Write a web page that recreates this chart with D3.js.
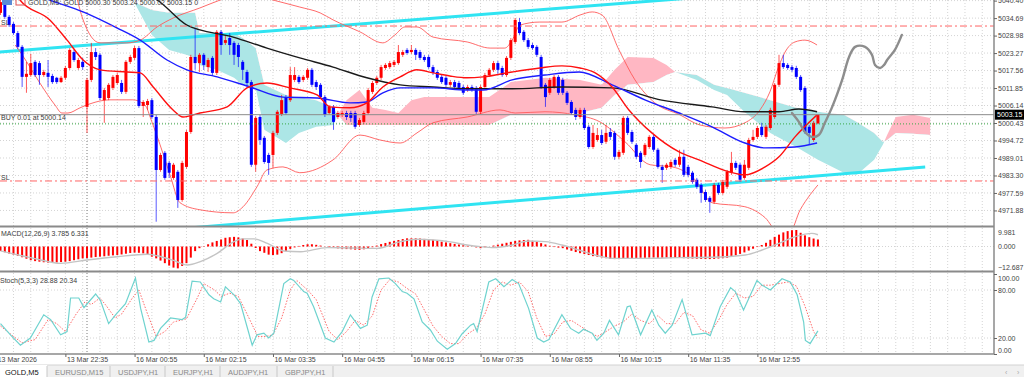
<!DOCTYPE html>
<html>
<head>
<meta charset="utf-8">
<script src="https://cdn.jsdelivr.net/npm/d3@7/dist/d3.min.js"></script>
<style>
  body { margin: 0; background: #fff; overflow: hidden; }
  svg { display: block; font-family: "Liberation Sans", Arial, sans-serif; }
</style>
</head>
<body>
<svg id="chart" width="1024" height="377"></svg>
<script>
// GOLD M5 candles, [open, high, low, close], one per bar
const candles = [
  [5036.4,5040.6,5035.7,5039.9],[5039.6,5040.3,5034.4,5035.1],[5035.1,5035.7,5031.8,5032.4],[5032.8,5033.4,5029.2,5029.8],
  [5029.8,5030.5,5024.6,5025.3],[5025.3,5025.9,5012.2,5015.5],[5015.5,5020.4,5010.3,5016.5],[5016.1,5023.0,5015.5,5020.0],
  [5020.4,5021.0,5015.5,5016.1],[5020.0,5020.7,5012.9,5016.1],[5016.1,5017.8,5015.5,5017.1],[5016.8,5021.0,5012.2,5015.5],
  [5015.8,5016.5,5013.2,5013.8],[5015.2,5015.5,5013.2,5013.8],[5013.8,5015.8,5013.5,5015.2],[5015.2,5019.1,5014.5,5018.4],
  [5018.4,5024.9,5017.8,5024.3],[5023.6,5024.3,5020.4,5021.0],[5018.4,5021.7,5017.8,5021.0],[5020.4,5021.7,5017.8,5018.7],
  [5005.7,5015.2,4997.2,5014.5],[5014.5,5026.6,5013.8,5023.6],[5023.6,5024.9,5021.0,5022.0],[5022.7,5023.3,5007.9,5008.6],
  [5007.9,5011.9,5000.5,5011.2],[5008.6,5013.5,5007.9,5012.9],[5011.9,5016.1,5011.2,5015.5],[5013.5,5016.8,5012.9,5016.1],
  [5013.5,5014.5,5009.9,5010.6],[5010.6,5021.0,5009.9,5020.4],[5020.4,5022.7,5019.7,5022.0],[5021.7,5025.6,5021.0,5024.9],
  [5024.9,5025.6,5005.4,5006.0],[5006.0,5007.9,5002.4,5007.3],[5006.3,5008.3,5004.7,5007.6],[5007.9,5008.6,5001.8,5002.4],
  [5002.4,5003.1,4968.2,4985.1],[4985.1,4990.7,4984.5,4990.0],[4990.7,4991.3,4981.9,4982.5],[4987.4,4988.1,4982.5,4984.2],
  [4982.5,4987.4,4981.9,4986.8],[4984.5,4985.1,4972.7,4975.3],[4975.3,4988.1,4974.7,4987.4],[4986.1,4998.2,4985.5,4997.5],
  [4997.5,5022.7,4996.9,5022.0],[5022.0,5031.5,5017.8,5020.0],[5020.0,5023.3,5017.1,5022.7],[5022.7,5023.3,5017.8,5019.4],
  [5018.7,5021.7,5017.1,5021.0],[5021.7,5022.3,5016.1,5016.8],[5016.8,5030.8,5016.1,5030.2],[5030.2,5030.8,5022.7,5025.9],
  [5026.6,5029.2,5025.9,5027.5],[5028.2,5029.8,5022.7,5025.9],[5026.6,5027.2,5019.4,5022.7],[5025.9,5026.6,5018.7,5022.0],
  [5020.4,5021.0,5014.5,5017.8],[5017.1,5017.8,5011.9,5013.5],[5013.8,5014.5,4986.1,4986.8],[4986.8,5002.7,4984.5,5002.1],
  [5002.4,5003.1,4993.3,4994.9],[4995.6,4996.2,4987.1,4987.7],[4990.0,4990.7,4983.5,4987.4],[4990.0,4997.9,4985.8,4997.2],
  [4997.2,5004.7,4996.5,5004.1],[5003.4,5009.6,5002.7,5007.9],[5008.9,5009.6,5003.1,5003.7],[5007.9,5018.7,5007.3,5016.1],
  [5014.5,5018.7,5013.8,5016.1],[5015.5,5016.1,5013.2,5013.8],[5014.5,5016.1,5013.8,5015.5],[5015.2,5018.4,5014.5,5017.8],
  [5017.8,5018.4,5012.2,5012.9],[5013.8,5014.5,5011.2,5012.2],[5012.9,5013.5,5008.3,5008.9],[5008.9,5009.6,5002.4,5003.1],
  [5003.7,5006.3,5003.1,5005.7],[5005.7,5006.3,4998.2,5000.8],[5002.4,5004.4,5001.8,5003.7],[5003.1,5004.4,5002.4,5003.7],
  [5003.7,5004.4,5001.4,5002.4],[5003.7,5004.4,5000.8,5002.1],[5003.7,5004.4,4998.5,4999.2],[4999.8,5002.1,4999.2,5001.4],
  [5000.8,5004.4,5000.1,5003.7],[5003.7,5011.9,5003.1,5011.2],[5010.6,5014.2,5009.9,5013.5],[5013.5,5015.8,5012.9,5015.2],
  [5015.2,5019.4,5014.5,5018.7],[5018.4,5020.0,5017.8,5019.4],[5018.7,5020.7,5018.1,5020.0],[5019.4,5021.0,5018.7,5020.4],
  [5020.0,5025.9,5019.4,5023.6],[5022.7,5024.3,5022.0,5023.6],[5024.3,5024.9,5022.7,5023.3],[5023.6,5025.9,5023.0,5024.3],
  [5024.3,5024.9,5021.0,5022.7],[5023.6,5024.3,5021.0,5021.7],[5022.0,5022.7,5020.4,5021.0],[5022.0,5022.7,5018.1,5018.7],
  [5018.7,5019.4,5016.1,5016.8],[5017.1,5017.8,5014.5,5015.2],[5015.5,5016.1,5013.2,5013.8],[5015.2,5015.8,5012.2,5012.9],
  [5012.9,5014.5,5012.2,5013.8],[5013.8,5014.5,5011.6,5012.2],[5013.5,5014.2,5011.2,5011.9],[5012.2,5012.9,5009.6,5010.3],
  [5011.2,5012.9,5010.6,5012.2],[5012.2,5012.9,5010.6,5011.2],[5011.9,5012.5,5003.4,5004.1],[5004.1,5012.9,5003.4,5012.2],
  [5012.2,5016.8,5011.6,5016.1],[5016.1,5018.4,5015.5,5017.8],[5017.8,5020.7,5017.1,5020.0],[5020.0,5020.7,5016.5,5017.8],
  [5018.4,5019.1,5015.5,5016.1],[5016.1,5022.3,5015.5,5021.7],[5021.7,5028.2,5021.0,5027.5],[5026.9,5034.7,5026.2,5034.1],
  [5033.4,5034.7,5029.2,5029.8],[5030.2,5030.8,5026.9,5027.5],[5027.5,5028.2,5024.6,5025.3],[5025.9,5026.6,5024.3,5024.9],
  [5025.3,5025.9,5022.0,5022.7],[5022.0,5022.7,5011.6,5012.2],[5012.9,5013.5,5005.7,5008.9],[5010.3,5015.2,5009.6,5014.5],
  [5012.2,5016.1,5011.6,5015.5],[5015.5,5016.1,5009.6,5010.3],[5014.5,5015.2,5009.6,5010.3],[5010.3,5010.9,5006.3,5007.0],
  [5007.3,5007.9,5003.1,5003.7],[5004.7,5005.4,5001.4,5002.4],[5002.4,5005.4,5001.8,5004.7],[5004.7,5005.4,4998.2,4998.8],
  [4999.2,4999.8,4992.0,4992.6],[4992.6,4999.8,4992.0,4997.2],[4994.9,4998.8,4994.3,4996.5],[4996.5,4998.2,4993.3,4993.9],
  [4994.3,4999.8,4993.6,4997.2],[4997.5,4998.8,4994.9,4995.9],[4997.2,4997.9,4988.4,4989.4],[4989.4,4991.7,4988.7,4991.0],
  [4990.7,5002.7,4990.0,5002.1],[5002.1,5002.7,4996.5,4997.2],[4997.5,4998.2,4993.6,4994.3],[4993.3,4993.9,4988.7,4989.4],
  [4990.7,4991.3,4985.8,4987.7],[4990.0,4993.9,4989.4,4993.3],[4992.6,4996.5,4992.0,4995.9],[4995.9,4996.5,4991.0,4991.7],
  [4991.7,4992.3,4985.5,4986.1],[4986.1,4986.8,4980.9,4985.1],[4985.8,4987.4,4985.1,4986.8],[4986.1,4988.4,4985.5,4987.7],
  [4988.4,4989.0,4986.1,4986.8],[4986.8,4991.7,4986.1,4989.4],[4989.4,4991.7,4982.8,4983.5],[4986.1,4986.8,4982.8,4983.5],
  [4984.2,4984.8,4980.6,4981.2],[4981.9,4982.5,4978.9,4979.6],[4980.2,4980.9,4974.4,4977.6],[4977.9,4978.6,4974.7,4975.3],
  [4976.0,4976.6,4971.1,4974.7],[4974.7,4980.9,4974.0,4980.2],[4980.2,4980.9,4977.0,4977.6],[4977.6,4981.9,4977.0,4981.2],
  [4979.6,4985.1,4978.9,4984.5],[4984.2,4991.0,4983.5,4987.4],[4987.4,4988.1,4985.1,4985.8],[4986.8,4987.4,4981.2,4981.9],
  [4982.5,4988.4,4981.9,4986.8],[4985.8,4995.6,4985.1,4994.9],[4994.9,4998.2,4994.3,4995.9],[4995.9,4999.5,4995.2,4998.8],
  [4999.2,5000.5,4995.9,4996.5],[4995.9,4999.8,4995.2,4999.2],[4998.8,5005.4,4998.2,5004.7],[5002.4,5013.5,5001.8,5012.9],
  [5012.9,5022.7,5012.2,5020.0],[5020.0,5022.7,5018.1,5018.7],[5019.4,5020.0,5017.8,5018.4],[5018.7,5019.4,5017.1,5017.8],
  [5018.4,5019.1,5014.8,5015.5],[5015.5,5016.1,5010.6,5011.2],[5011.9,5012.5,4996.9,4997.5],[4999.2,4999.8,4993.3,4997.2],
  [4994.9,5001.1,4994.3,5000.5],[5000.30,5003.24,5000.02,5003.15]
];

// moving averages, [bar, price]
const maRed = [[2.2,5045.5],[4.5,5040.6],[11.4,5034.1],[15.4,5027.5],[19.1,5021.0],[23.0,5017.8],[29.2,5017.1],[32.3,5016.8],
  [35.3,5012.2],[39.9,5004.7],[42.2,5002.4],[46.1,5003.7],[52.4,5005.7],[57.0,5011.9],[61.6,5013.5],[66.9,5011.9],[73.2,5009.6],
  [76.2,5005.7],[80.8,5005.4],[84.7,5007.0],[88.4,5012.2],[92.4,5015.5],[96.3,5017.8],[100.0,5016.8],[103.9,5015.8],[107.9,5015.2],
  [111.6,5015.5],[118.3,5017.1],[124.7,5018.4],[129.8,5019.1],[134.0,5018.4],[137.5,5016.8],[141.4,5012.2],[145.3,5004.7],
  [150.6,4997.2],[156.9,4991.0],[161.5,4988.4],[168.4,4984.5],[172.1,4983.5],[176.8,4986.1],[180.0,4989.4],[183.7,4995.9],[188.8,5003.1]];
const maBlue = [[6.8,5043.2],[11.4,5040.6],[19.1,5036.7],[26.9,5031.5],[32.3,5027.5],[38.5,5021.0],[43.1,5017.8],[50.1,5015.5],
  [57.7,5012.2],[65.3,5008.9],[73.2,5008.6],[80.8,5007.0],[84.7,5007.3],[88.4,5010.3],[92.4,5011.9],[100.0,5011.9],[107.9,5011.2],
  [111.6,5011.2],[118.3,5014.5],[125.9,5016.1],[133.8,5017.1],[141.4,5012.9],[149.0,5008.0],[156.9,5003.7],[164.5,4999.2],
  [172.1,4993.9],[176.8,4992.3],[183.7,4992.6],[188.8,4993.9]];
const maBlack = [[32.3,5043.2],[36.2,5040.6],[43.1,5032.4],[53.8,5028.5],[61.6,5024.9],[69.2,5021.7],[76.9,5018.7],[84.7,5015.2],
  [92.4,5012.9],[100.0,5012.2],[107.9,5011.6],[118.3,5011.6],[129.8,5012.2],[141.4,5011.9],[152.9,5007.9],[164.5,5005.7],
  [172.1,5004.1],[180.0,5004.1],[184.6,5005.0],[188.8,5004.1]];

// Bollinger bands, [bar, price]
const bbUpper = [[17.5,5042.2],[19.1,5034.1],[23.0,5026.6],[29.2,5026.6],[32.3,5027.5],[36.2,5031.8],[39.9,5034.7],[46.1,5038.0],
  [50.8,5040.6],[56.5,5043.2],[63.0,5040.6],[69.2,5038.3],[73.9,5036.4],[76.9,5034.1],[83.1,5030.2],[88.4,5026.6],[91.2,5029.2],
  [93.5,5031.8],[96.3,5031.8],[100.0,5028.5],[107.9,5026.9],[113.2,5024.9],[116.6,5024.9],[118.3,5027.5],[120.1,5032.4],
  [124.7,5033.4],[129.8,5033.4],[134.0,5035.7],[136.8,5036.7],[139.1,5035.7],[143.0,5024.3],[146.7,5014.5],[151.3,5007.0],
  [157.1,5003.1],[161.7,4999.8],[167.5,4998.8],[172.1,5000.5],[175.6,5004.7],[177.9,5010.6],[179.8,5018.4],[181.4,5023.6],
  [183.7,5026.9],[186.0,5027.5],[188.8,5025.9]];
const bbLower = [[3.4,5025.9],[5.0,5022.7],[9.1,5013.5],[12.6,5006.3],[14.2,5003.7],[15.6,5003.7],[18.4,5005.4],[20.7,5006.7],
  [25.3,5008.0],[30.6,5008.0],[33.4,5006.3],[35.0,5000.8],[36.9,4993.3],[39.2,4983.5],[41.5,4974.4],[46.1,4972.1],[53.8,4971.1],
  [56.1,4973.1],[59.3,4979.6],[61.6,4985.1],[65.3,4986.1],[69.2,4984.2],[76.9,4988.4],[83.1,4996.5],[87.7,4994.9],[92.4,4993.9],
  [96.3,4997.2],[100.0,5000.5],[107.9,5002.4],[115.5,5004.7],[119.0,5003.7],[125.9,5004.1],[132.8,5003.1],[138.6,5000.8],
  [144.4,4994.3],[150.2,4986.8],[155.3,4986.1],[160.6,4981.9],[164.5,4974.4],[172.1,4973.1],[176.8,4969.5],[179.8,4964.9],
  [182.5,4964.9],[184.9,4972.1],[187.2,4977.0],[189.0,4980.2]];

// Ichimoku cloud (shifted 26 bars ahead)
const cloudBars = [30,31,35,39,43,45,46,50,54,56,59,61,66,69,73,77,78,80,83,86,89,92,95,98,113,118,126,134,139,142,145,151,
  154,156,161,165,168,172,178,184,189,195,198,202,204,205,207,211,215];
const senkouA = [5043.9,5039.6,5029.2,5024.3,5022.7,5021.7,5019.4,5017.8,5015.2,5012.9,5011.9,4998.2,4993.9,4997.2,4999.2,
  4999.8,5003.1,5007.9,5011.2,5005.4,5004.7,5003.7,5007.9,5008.9,5008.9,5013.8,5015.2,5014.5,5012.9,5017.8,5022.0,5021.7,
  5019.4,5017.1,5014.5,5011.2,5009.6,5004.1,4997.2,4992.6,4988.4,4984.2,4983.5,4988.4,4993.3,4996.5,5002.4,5003.1,5002.1];
const senkouB = [5041.9,5039.9,5037.3,5036.4,5036.4,5036.4,5029.8,5029.8,5029.8,5028.2,5024.9,5012.9,5009.6,5008.9,5007.9,
  5005.4,5003.1,4999.8,4999.8,4999.8,4999.8,4999.8,4999.8,4999.8,4999.8,5003.1,5003.1,5003.7,5005.4,5009.6,5012.9,5013.8,
  5016.1,5017.1,5016.1,5012.9,5011.9,5010.3,5007.9,5005.4,5004.1,5003.1,5000.8,4997.2,4994.3,4994.9,4997.2,4996.9,4996.5];

// drawn objects
const channelUpper = [[-2, 5023.4], [170, 5042.4]];
const channelLower = [[44, 4966.2], [213.8, 4986.1]];
const projection = [[183.0,5003.7],[184.6,5000.8],[186.0,4997.5],[187.6,4995.9],[189.2,4996.5],[190.6,5000.5],[192.3,5005.7],
  [194.6,5014.5],[196.2,5022.0],[197.6,5025.3],[199.9,5025.3],[201.5,5022.7],[202.2,5019.4],[203.4,5018.4],[204.3,5019.4],
  [205.0,5021.0],[206.8,5024.3],[208.4,5029.2]];
const slTop = 5032.1, slBottom = 4981.5, buyPrice = 5000.14, bidPrice = 5003.15;

// MACD(12,26,9)
const macdHist = [
  -2.4,-3.1,-3.8,-4.4,-5.0,-5.8,-6.6,-7.4,-7.9,-8.2, -8.5,-8.7,-8.7,-8.6,-8.4,-8.2,-7.9,-7.4,-6.9,-6.4,
  -6.2,-6.0,-5.7,-5.5,-5.3,-5.0,-4.8,-4.6,-4.3,-3.9, -3.5,-3.3,-3.4,-3.7,-4.5,-5.5,-6.4,-7.6,-9.0,-10.3,
  -11.4,-11.8,-10.5,-9.0,-6.0,-2.5,-0.9,0.2,1.2,2.2, 3.0,3.8,4.7,5.0,5.2,4.9,4.3,3.5,1.5,-0.8,
  -2.5,-3.4,-4.4,-4.6,-4.4,-3.6,-2.5,-1.3,-0.5,0.3, 0.8,1.2,1.2,0.9,0.5,0.1,-0.4,-0.8,-1.0,-1.2,
  -1.4,-1.5,-1.7,-1.8,-1.5,-1.1,-0.4,0.5,1.3,1.9, 2.5,3.0,3.5,4.0,4.4,4.4,4.4,4.3,4.1,3.8,
  3.6,3.1,2.6,2.2,1.8,1.4,1.1,0.7,0.4,-0.1, -0.5,-0.9,-0.4,0.0,0.5,1.0,1.5,2.0,2.5,3.0,
  3.3,3.5,3.6,3.0,2.4,1.8,1.1,0.4,-0.3,-0.6, -0.9,-1.6,-2.3,-3.0,-3.6,-4.1,-4.6,-5.2,-5.5,-5.9,
  -6.3,-6.7,-6.8,-6.8,-6.6,-6.4,-6.3,-6.2,-6.1,-6.1, -6.0,-6.0,-6.1,-6.1,-6.0,-6.1,-6.2,-6.1,-6.3,-6.4,
  -6.5,-6.6,-6.7,-6.8,-6.8,-6.7,-6.5,-6.3,-6.1,-5.5, -4.8,-4.0,-3.2,-2.2,-1.2,-0.3,0.8,2.0,3.6,5.2,
  6.4,7.6,8.3,8.8,8.9,7.4,6.0,5.0,4.3,3.785];
const macdSignal = [[0,-2.4],[7.7,-6.4],[13.9,-9.1],[20,-7.3],[27,-5.5],[33.9,-4.2],[36.2,-5.0],[40,-7.5],[43.2,-10.0],
  [46.2,-8.2],[50.1,-3.7],[54,2.6],[56,4.1],[58.6,4.1],[61.7,1.7],[65.5,-2.4],[69.4,-2.8],[75.5,-0.6],[80.9,-0.8],[87.1,-1.0],
  [92.5,2.6],[96.3,3.9],[100.2,3.5],[104,2.5],[107.9,0.8],[111,-0.1],[114.1,-0.6],[118.3,0.8],[122.1,3.0],[126,2.6],[129.8,0.8],
  [133.7,-1.9],[137.5,-4.6],[141.4,-6.4],[149.1,-6.4],[156.8,-6.0],[164.5,-5.8],[172.2,-4.6],[176.1,-1.9],[180,1.7],[183.8,5.3],
  [187.6,7.1],[189,6.331]];

// Stochastic(5,3,3), [bar, value]
const stochMain = [[0,38],[2.3,24],[4.6,11],[6.9,20],[10,49],[11.6,43],[13.9,24],[15.4,28],[16.2,70],[18.1,70],[19.3,58],
  [20.4,65],[22,75],[23.1,67],[25,38],[26.6,49],[28.9,63],[31.2,95],[32.4,57],[34.3,15],[35.5,17],[37,32],[39.3,45],[42,43],
  [42.8,46],[44.3,91],[46.2,90],[48.2,74],[49.3,69],[50.9,65],[52,84],[54,74],[55.5,63],[58.2,11],[59.3,24],[60.9,26],[62,20],
  [63.2,26],[65.5,88],[67,94],[67.8,92],[70.1,78],[70.9,76],[72.4,59],[75.1,20],[77.1,15],[79,28],[80.9,49],[83.2,32],[84.8,36],
  [85.9,71],[87.5,94],[89.8,95],[91.3,88],[92.9,78],[94,76],[95.6,69],[97.5,40],[99.4,30],[101,16],[103.3,6],[105.2,13],
  [106.7,25],[108.7,36],[109.4,38],[110.2,28],[112.9,90],[114.5,94],[116.4,84],[118.3,93],[119.8,88],[122.1,57],[124.1,20],
  [125.6,15],[126.8,18],[129.8,49],[131.8,32],[133.7,26],[134.8,31],[136.8,26],[137.9,17],[139.5,26],[140.8,42],[142.9,24],
  [144.9,59],[145.6,60],[148,24],[150.6,55],[152.2,36],[153.7,26],[155.3,36],[157.6,68],[159.9,24],[163,26],[164.1,23],
  [166.4,59],[168.8,83],[169.9,78],[171.8,55],[174.9,92],[176.1,86],[178,80],[180.7,94],[182.6,90],[184.2,74],[185.7,40],
  [186.1,17],[187.2,13],[189,28.88]];
const stochSignal = [[0,35],[3,22],[5,14],[8,18],[11,43],[13,38],[15,28],[17.5,50],[19.5,65],[21,62],[23,70],[24.5,60],
  [26.5,45],[28,50],[30.5,70],[32,80],[34,50],[36,22],[38,28],[40,40],[43,44],[45.5,70],[47,88],[49.5,80],[51,72],[53,76],
  [55,72],[57,50],[59.5,22],[61.5,22],[63,24],[65,45],[67,80],[68.5,92],[71,80],[73,68],[76,28],[78,18],[80,28],[82,42],
  [84,36],[86,48],[88,80],[90,93],[92,90],[94,82],[96,75],[98,55],[100,35],[102,22],[104,13],[106,13],[108,25],[110,32],
  [112,50],[114,80],[116,90],[118,86],[120,90],[122,78],[124,45],[126,22],[128,25],[130,40],[132,42],[134,35],[136,28],
  [138,22],[140,28],[142,35],[144,40],[146,50],[148,42],[150,38],[152,48],[154,38],[156,38],[158,52],[160,48],[162,30],
  [164,26],[166,42],[168,62],[170,76],[172,70],[174,72],[176,86],[178,86],[180,88],[182,90],[184,85],[186,60],[188,28],[189,20.34]];

// axis ticks
const priceTicks = [5040.40,5034.69,5028.98,5023.27,5017.56,5011.85,5006.14,5000.43,4994.72,4989.01,4983.30,4977.59,4971.88];
const macdTicks = [9.981, 0, -12.687];
const stochTicks = [100, 80, 20, 0];
const timeTicks = [-1, 15, 31, 47, 63, 79, 95, 111, 127, 143, 159, 175];
const timeLabels = ["13 Mar 2026","13 Mar 22:35","16 Mar 00:55","16 Mar 02:15","16 Mar 03:35","16 Mar 04:55",
  "16 Mar 06:15","16 Mar 07:35","16 Mar 08:55","16 Mar 10:15","16 Mar 11:35","16 Mar 12:55"];
const daySeparator = 20;
const tabs = ["GOLD,M5","EURUSD,M15","USDJPY,H1","EURJPY,H1","AUDJPY,H1","GBPJPY,H1"];

const W = 1024, H = 377, axisX = 994;
const mainTop = 0, mainBottom = 226, macdTop = 228, macdBottom = 270, stochTop = 274, stochBottom = 354;

const svg = d3.select("#chart");
svg.append("rect").attr("width", W).attr("height", H).attr("fill", "#fff");

const x = d3.scaleLinear().domain([0, 189]).range([0.5, 0.5 + 4.325 * 189]);
const y = d3.scaleLinear().domain([4966.8, 5040.6]).range([mainBottom, mainTop]);
const yM = d3.scaleLinear().domain([-12.687, 9.981]).range([macdBottom, macdTop]);
const yS = d3.scaleLinear().domain([0, 100]).range([stochBottom, stochTop]);

const defs = svg.append("defs");
const clip = (id, x0, y0, w, h) =>
  defs.append("clipPath").attr("id", id).append("rect").attr("x", x0).attr("y", y0).attr("width", w).attr("height", h);
clip("clipMain", 0, 0, axisX, mainBottom);
clip("clipMacd", 0, macdTop, axisX, macdBottom - macdTop);
clip("clipStoch", 0, 272, axisX, stochBottom - 272);

// grid
const grid = svg.append("g").attr("stroke", "#d4d4d4").attr("stroke-dasharray", "1,2");
const gridBars = d3.range(3, 228, 4);
grid.selectAll("line.v").data(gridBars).join("line")
  .attr("x1", d => x(d)).attr("x2", d => x(d)).attr("y1", 0).attr("y2", stochBottom);
const hLines = priceTicks.map(y).concat([yM(0)], [yS(80), yS(20)]);
grid.selectAll("line.h").data(hLines).join("line")
  .attr("x1", 0).attr("x2", axisX).attr("y1", d => d).attr("y2", d => d);

// day separator
svg.append("line").attr("x1", x(daySeparator)).attr("x2", x(daySeparator)).attr("y1", 0).attr("y2", stochBottom)
  .attr("stroke", "#7a7a7a").attr("stroke-dasharray", "1,2");

const main = svg.append("g").attr("clip-path", "url(#clipMain)");

// ichimoku cloud
const cloud = cloudBars.map((b, k) => ({ b, a: senkouA[k], s: senkouB[k] }));
defs.append("clipPath").attr("id", "aboveB").append("path")
  .attr("d", d3.area().x(d => x(d.b)).y0(-20).y1(d => y(d.s))(cloud));
defs.append("clipPath").attr("id", "belowB").append("path")
  .attr("d", d3.area().x(d => x(d.b)).y0(d => y(d.s)).y1(300)(cloud));
const between = d3.area().x(d => x(d.b)).y0(d => y(d.a)).y1(d => y(d.s));
main.append("g").attr("clip-path", "url(#aboveB)").append("path").attr("d", between(cloud)).attr("fill", "#ffb7c3");
main.append("g").attr("clip-path", "url(#belowB)").append("path").attr("d", between(cloud)).attr("fill", "#ace6e6");

const line = (sc) => d3.line().x(d => x(d[0])).y(d => sc(d[1]));
const smooth = (sc) => d3.line().x(d => x(d[0])).y(d => sc(d[1])).curve(d3.curveMonotoneX);

// channel
[channelUpper, channelLower].forEach(c =>
  main.append("path").attr("d", line(y)(c)).attr("stroke", "#30e4f2").attr("stroke-width", 3).attr("fill", "none"));

// bollinger
[bbUpper, bbLower].forEach(c =>
  main.append("path").attr("d", smooth(y)(c)).attr("stroke", "#ff5a5a").attr("stroke-width", 0.9).attr("fill", "none"));

// candles
const up = "#ff0000", down = "#0000ff";
const cg = main.append("g");
cg.selectAll("line").data(candles).join("line")
  .attr("x1", (d, i) => x(i)).attr("x2", (d, i) => x(i))
  .attr("y1", d => y(d[1])).attr("y2", d => y(d[2]))
  .attr("stroke", d => d[3] >= d[0] ? up : down).attr("stroke-opacity", 0.65).attr("stroke-width", 1);
cg.selectAll("rect").data(candles).join("rect")
  .attr("x", (d, i) => x(i) - 1.5).attr("width", 3)
  .attr("y", d => y(Math.max(d[0], d[3])))
  .attr("height", d => Math.max(1, Math.abs(y(d[0]) - y(d[3]))))
  .attr("fill", d => d[3] >= d[0] ? up : down);

// moving averages
main.append("path").attr("d", smooth(y)(maBlack)).attr("stroke", "#1a1a1a").attr("stroke-width", 1.4).attr("fill", "none");
main.append("path").attr("d", smooth(y)(maBlue)).attr("stroke", "#1c1cff").attr("stroke-width", 1.4).attr("fill", "none");
main.append("path").attr("d", smooth(y)(maRed)).attr("stroke", "#ff1010").attr("stroke-width", 1.4).attr("fill", "none");

// levels
const level = (p, color, dash, w) => main.append("line").attr("x1", 0).attr("x2", axisX)
  .attr("y1", y(p)).attr("y2", y(p)).attr("stroke", color).attr("stroke-width", w).attr("stroke-dasharray", dash);
level(slTop, "#ff6464", "7,3,2,3", 1);
level(slBottom, "#ff6464", "7,3,2,3", 1);
level(buyPrice, "#3aa845", "1,2", 1);
level(bidPrice, "#8c8c8c", null, 1);

// projection sketch
main.append("path").attr("d", line(y).curve(d3.curveCatmullRom)(projection))
  .attr("stroke", "#8d8d8d").attr("stroke-width", 2.4).attr("fill", "none").attr("stroke-linecap", "round");

// text on main
const txt = (g, x0, y0, s, size, fill) => g.append("text").attr("x", x0).attr("y", y0).text(s)
  .attr("font-size", size).attr("fill", fill || "#3c3c3c");
txt(svg, 1, 25, "SL", 7);
txt(svg, 1, 180, "SL", 7);
txt(svg, 1, 119.5, "BUY 0.01 at 5000.14", 7);
svg.append("rect").attr("x", 2).attr("y", -1).attr("width", 10).attr("height", 6).attr("fill", "#5b8bd6");
svg.append("rect").attr("x", 16).attr("y", -1).attr("width", 9).attr("height", 6).attr("fill", "none").attr("stroke", "#e05050");
txt(svg, 28, 5, "GOLD,M5:  GOLD   5000.30 5003.24 5000.02 5003.15   0", 7, "#3c3c3c");

// MACD
const mg = svg.append("g").attr("clip-path", "url(#clipMacd)");
mg.selectAll("rect").data(macdHist).join("rect")
  .attr("x", (d, i) => x(i) - 1).attr("width", 2)
  .attr("y", d => Math.min(yM(0), yM(d))).attr("height", d => Math.abs(yM(d) - yM(0)))
  .attr("fill", "#ff0000");
mg.append("path").attr("d", smooth(yM)(macdSignal)).attr("stroke", "#c4c4c4").attr("stroke-width", 1.4).attr("fill", "none");
txt(svg, 1, 236, "MACD(12,26,9) 3.785 6.331", 7);

// Stochastic
const sg = svg.append("g").attr("clip-path", "url(#clipStoch)");
sg.append("path").attr("d", line(yS)(stochSignal)).attr("stroke", "#ff6a6a").attr("stroke-width", 1)
  .attr("stroke-dasharray", "1.5,1.5").attr("fill", "none");
sg.append("path").attr("d", line(yS)(stochMain)).attr("stroke", "#6fd3cf").attr("stroke-width", 1.2).attr("fill", "none");
txt(svg, 0, 283, "Stoch(5,3,3) 28.88 20.34", 7);

// panel frames
const frame = svg.append("g").attr("stroke", "#8a8a8a");
frame.append("line").attr("x1", 0).attr("x2", axisX).attr("y1", 226.5).attr("y2", 226.5).attr("stroke-width", 2);
frame.append("line").attr("x1", 0).attr("x2", axisX).attr("y1", 271.5).attr("y2", 271.5).attr("stroke-width", 2);
frame.append("line").attr("x1", 0).attr("x2", axisX).attr("y1", stochBottom).attr("y2", stochBottom).attr("stroke-width", 1.5);
frame.append("line").attr("x1", axisX).attr("x2", axisX).attr("y1", 0).attr("y2", stochBottom).attr("stroke-width", 1.5);

// axes
const styleAxis = g => {
  g.select(".domain").remove();
  g.selectAll(".tick line").attr("stroke", "#666");
  g.selectAll(".tick text").attr("fill", "#444").attr("font-size", 7).attr("font-family", "Liberation Sans, Arial, sans-serif");
};
svg.append("g").attr("transform", `translate(${axisX},0)`)
  .call(d3.axisRight(y).tickValues(priceTicks).tickFormat(d3.format(".2f")).tickSize(3).tickPadding(1))
  .call(styleAxis);
const macdAxis = svg.append("g").attr("transform", `translate(${axisX},0)`)
  .call(d3.axisRight(yM).tickValues(macdTicks).tickFormat(d3.format(".3f")).tickSize(0).tickPadding(4))
  .call(styleAxis);
macdAxis.selectAll(".tick text").attr("dy", d => d > 5 ? "0.9em" : d < -5 ? "-0.05em" : "0.32em");
const stochAxis = svg.append("g").attr("transform", `translate(${axisX},0)`)
  .call(d3.axisRight(yS).tickValues(stochTicks).tickFormat(d3.format(".2f")).tickSize(3).tickPadding(1))
  .call(styleAxis);
stochAxis.selectAll(".tick text").attr("dy", d => d === 100 ? "0.9em" : d === 0 ? "-0.25em" : "0.32em");

const timeAxis = svg.append("g").attr("transform", `translate(0,${stochBottom})`)
  .call(d3.axisBottom(x).tickValues(timeTicks).tickFormat((d, i) => timeLabels[i]).tickSize(3))
  .call(styleAxis);
timeAxis.selectAll(".tick text").attr("text-anchor", "start").attr("x", 1).attr("y", 3);

// current price box
svg.append("rect").attr("x", axisX + 1).attr("y", y(bidPrice) - 5).attr("width", 29).attr("height", 10).attr("fill", "#000");
svg.append("text").attr("x", axisX + 3).attr("y", y(bidPrice) + 2.5).text("5003.15").attr("font-size", 7).attr("fill", "#fff");

// tab bar
svg.append("rect").attr("x", 0).attr("y", 365).attr("width", W).attr("height", 12).attr("fill", "#f0f0f0");
svg.append("line").attr("x1", 0).attr("x2", W).attr("y1", 365).attr("y2", 365).attr("stroke", "#d2d2d2");
const tabEdges = [0, 47, 110, 165, 220, 277, 333];
svg.append("rect").attr("x", 0).attr("y", 365).attr("width", 47).attr("height", 12).attr("fill", "#fff");
tabs.forEach((t, k) => {
  svg.append("line").attr("x1", tabEdges[k + 1]).attr("x2", tabEdges[k + 1]).attr("y1", 366).attr("y2", 377).attr("stroke", "#c8c8c8");
  svg.append("text").attr("x", tabEdges[k] + (k === 0 ? 5 : 8)).attr("y", 375).text(t)
    .attr("font-size", 7.5).attr("fill", k === 0 ? "#111" : "#8a8a8a");
});
svg.append("text").attr("x", 1005).attr("y", 375).text("‹").attr("font-size", 7).attr("fill", "#aaa");
svg.append("text").attr("x", 1017).attr("y", 375).text("›").attr("font-size", 7).attr("fill", "#aaa");
</script>
</body>
</html>
